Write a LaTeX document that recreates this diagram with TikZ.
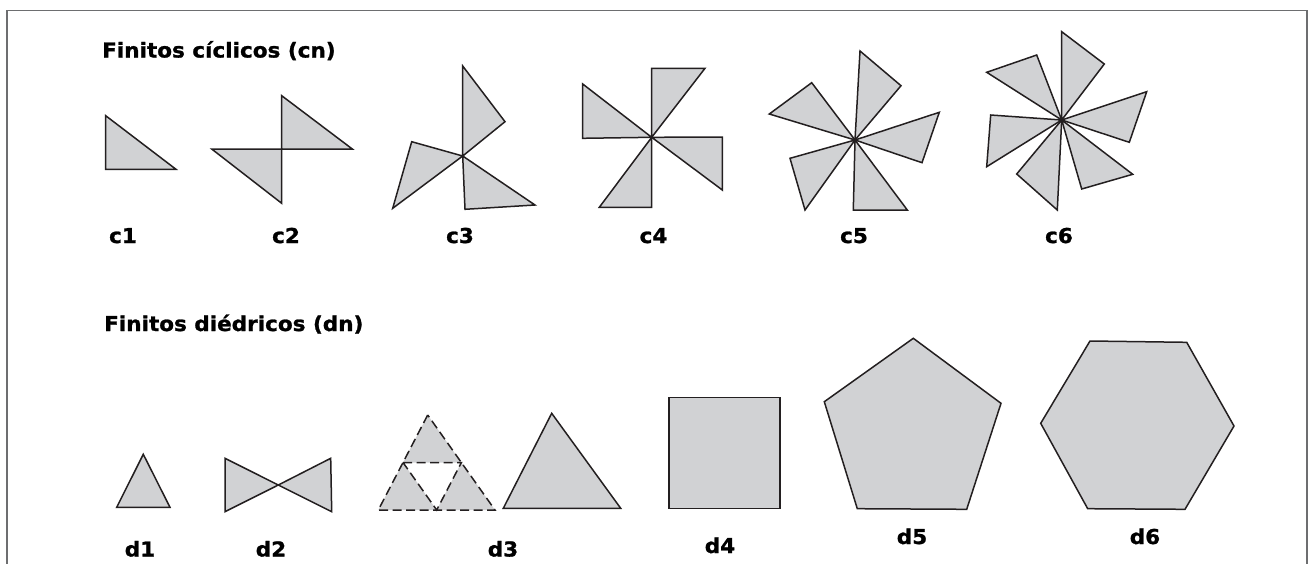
\documentclass[tikz,border=0pt]{standalone}
\usepackage{fontspec}
\setmainfont{DejaVu Sans}
\newfontfamily\headfont{DejaVu Sans Bold}[FakeStretch=1.05, FakeBold=1.2]
\definecolor{facegray}{HTML}{D1D2D4}
\definecolor{edgeink}{HTML}{231F20}
\definecolor{framegray}{HTML}{6D6E70}
\tikzset{
  face/.style={fill=facegray, draw=edgeink, line width=1.5pt, line join=miter},
  dashedge/.style={draw=edgeink, line width=1.5pt, dash pattern=on 9pt off 4.5pt},
  grouptitle/.style={anchor=base west, inner sep=0pt, font=\headfont\fontsize{20.5}{24}\selectfont},
  grouplabel/.style={anchor=base, inner sep=0pt, font=\headfont\fontsize{20.5}{24}\selectfont},
}

\begin{document}
\begin{tikzpicture}[x=1pt, y=-1pt]
    \useasboundingbox (0,0) rectangle (1310,563);
    \draw[framegray, line width=1.2pt] (7,600) -- (7,10.5) -- (1307,10.5) -- (1307,600);

    \node[grouptitle] (tcyc) at (102,57.5) {Finitos cíclicos (cn)};
    \node[grouptitle] (tdie) at (104,331) {Finitos diédricos (dn)};

    \draw[face] (105.7,115.7) -- (105.7,169.3) -- (176,169.3) -- cycle;

    \coordinate (oc2) at (281.7,149);
    \draw[face] (oc2) -- (281.7,95.7) -- (352.3,149) -- cycle;
    \draw[face] (oc2) -- (211.7,149) -- (281.7,203.3) -- cycle;

    \coordinate (oc3) at (462.7,156);
    \draw[face] (oc3) -- (462.7,66) -- (505,121.7) -- cycle;
    \draw[face] (oc3) -- (535,205) -- (465,209.3) -- cycle;
    \draw[face] (oc3) -- (392.7,208.3) -- (411.7,141.7) -- cycle;

    \coordinate (oc4) at (651.7,137.3);
    \draw[face] (oc4) -- (651.7,68.3) -- (705,68.3) -- cycle;
    \draw[face] (oc4) -- (722.3,137) -- (722.3,190) -- cycle;
    \draw[face] (oc4) -- (651.7,207.3) -- (599.3,207.3) -- cycle;
    \draw[face] (oc4) -- (582.7,138.3) -- (582.7,84) -- cycle;

    \coordinate (oc5) at (855,140);
    \draw[face] (oc5) -- (860,51) -- (901,85.7) -- cycle;
    \draw[face] (oc5) -- (939.3,112.3) -- (922,162.7) -- cycle;
    \draw[face] (oc5) -- (853.3,210) -- (907.3,210) -- cycle;
    \draw[face] (oc5) -- (790,158.3) -- (805,210) -- cycle;
    \draw[face] (oc5) -- (769.3,114) -- (811.7,82.7) -- cycle;

    \coordinate (oc6) at (1061.7,120);
    \draw[face] (oc6) -- (1061.7,31.7) -- (1104.3,64) -- cycle;
    \draw[face] (oc6) -- (1146.7,91.7) -- (1129.3,142.3) -- cycle;
    \draw[face] (oc6) -- (1132.7,174.3) -- (1081.7,189) -- cycle;
    \draw[face] (oc6) -- (1057.3,210) -- (1016.7,174) -- cycle;
    \draw[face] (oc6) -- (986.7,166.7) -- (990.7,115) -- cycle;
    \draw[face] (oc6) -- (986.7,72.3) -- (1036.7,55) -- cycle;

    \node[grouplabel] (lc1) at (123,243) {c1};
    \node[grouplabel] (lc2) at (286,243) {c2};
    \node[grouplabel] (lc3) at (460,243) {c3};
    \node[grouplabel] (lc4) at (653.5,243) {c4};
    \node[grouplabel] (lc5) at (854,243) {c5};
    \node[grouplabel] (lc6) at (1059,243) {c6};

    \draw[face] (143.3,454.3) -- (116.7,507.3) -- (170,507.3) -- cycle;

    \coordinate (od2) at (278.3,485);
    \draw[face] (od2) -- (225,458.3) -- (225,511.7) -- cycle;
    \draw[face] (od2) -- (330.7,458.3) -- (331.7,511.7) -- cycle;

    \coordinate (top3) at (427.7,415);
    \coordinate (bl3) at (378.3,510);
    \coordinate (br3) at (495,510);
    \coordinate (ml3) at (403,462.5);
    \coordinate (mr3) at (461.4,462.5);
    \coordinate (mb3) at (436.7,510);
    \fill[facegray] (top3) -- (ml3) -- (mr3) -- cycle;
    \fill[facegray] (ml3) -- (bl3) -- (mb3) -- cycle;
    \fill[facegray] (mr3) -- (mb3) -- (br3) -- cycle;
    \draw[dashedge] (top3) -- (bl3) -- (br3) -- cycle;
    \draw[dashedge] (ml3) -- (mr3) -- (mb3) -- cycle;

    \draw[face] (551.7,413.3) -- (503.3,508.3) -- (620.7,508.3) -- cycle;

    \draw[face] (669,397.7) rectangle (780,508.3);

    \draw[face] (913.3,338.3) -- (1001,403.3) -- (966.7,509.3) -- (857.3,508.7) -- (824.3,401.7) -- cycle;

    \draw[face] (1090,341) -- (1186.7,342.3) -- (1234,426) -- (1185,509.3) -- (1087.7,508.7) -- (1040.7,423.3) -- cycle;

    \node[grouplabel] (ld1) at (140,556.5) {d1};
    \node[grouplabel] (ld2) at (271,556.5) {d2};
    \node[grouplabel] (ld3) at (503,556.5) {d3};
    \node[grouplabel] (ld4) at (720,553) {d4};
    \node[grouplabel] (ld5) at (912,544) {d5};
    \node[grouplabel] (ld6) at (1145,544) {d6};
\end{tikzpicture}
\end{document}
